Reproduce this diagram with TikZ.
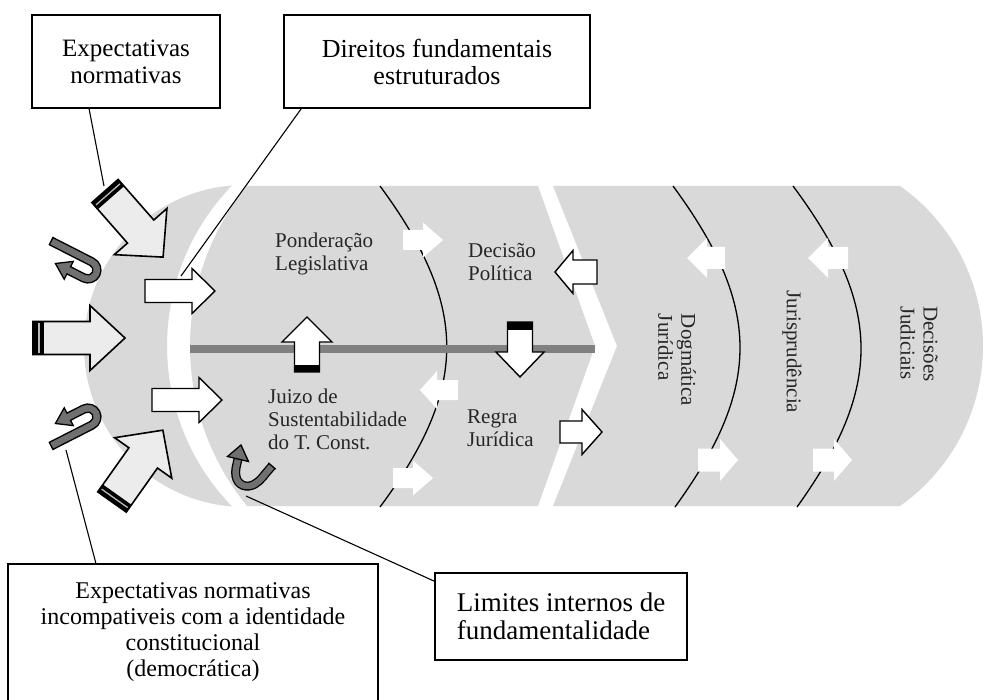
\documentclass[tikz,border=0pt]{standalone}
\usepackage{fontspec}
\setmainfont{Liberation Serif}
\definecolor{regiongray}{HTML}{D9D9D9}
\definecolor{arrowlight}{HTML}{ECECEC}
\definecolor{ugray}{HTML}{707070}
\definecolor{bargray}{HTML}{808080}
% block arrow: style, x, y, rotate, length, body half width, head half width, head length
\newcommand{\blockarrow}[8]{%
  \path[#1, shift={(#2,#3)}, rotate=#4] (0,-#6) -- ({#5-#8},-#6) -- ({#5-#8},-#7) -- (#5,0) -- ({#5-#8},#7) -- ({#5-#8},#6) -- (0,#6) -- cycle;}
% striped black tail: x, y, rotate, half width, thickness, stripe position
\newcommand{\tailband}[6]{%
  \fill[black, shift={(#1,#2)}, rotate=#3] (0,-#4) rectangle (#5,#4);
  \draw[gray!55, line width=1.3pt, shift={(#1,#2)}, rotate=#3] (#6,{-#4+1.5}) -- (#6,{#4-1.5});}
% plain black tail: x, y, rotate, half width, thickness
\newcommand{\tailblack}[5]{%
  \fill[black, shift={(#1,#2)}, rotate=#3] (0,-#4) rectangle (#5,#4);}
% U-turn arrow: x, y, rotate, yscale
\newcommand{\uarrow}[4]{%
  \filldraw[uarrowstyle, shift={(#1,#2)}, rotate=#3, yscale=#4] (-46,-13) -- (0,-13) .. controls (7.2,-13) and (13,-7.2) .. (13,0) .. controls (13,7.2) and (7.2,13) .. (0,13) -- (-17,13) -- (-17,19) -- (-32,9) -- (-17,-1) -- (-17,5) -- (0,5) .. controls (2.8,5) and (5,2.8) .. (5,0) .. controls (5,-2.8) and (2.8,-5) .. (0,-5) -- (-46,-5) -- cycle;}
\begin{document}
\begin{tikzpicture}[x=1pt,y=-1pt,
  region/.style={fill=regiongray},
  lightarrow/.style={fill=arrowlight, draw=black, line width=1.6pt},
  outarrow/.style={fill=white, draw=black, line width=1.4pt},
  plainarrow/.style={fill=white},
  uarrowstyle/.style={fill=ugray, draw=black, line width=1.3pt},
  curveline/.style={draw=black, line width=1.3pt},
  barline/.style={draw=bargray, line width=8pt},
  lbl/.style={font=\fontsize{21}{23}\selectfont, inner sep=0pt, align=left, text=black!85},
  box/.style={draw=black, line width=1.8pt, fill=white, align=center, inner sep=0pt},
  conn/.style={draw=black, line width=1.1pt}]
\useasboundingbox (0,0) rectangle (984,700);
\fill[white] (0,0) rectangle (984,700);

% regions
\fill[region] (232,185.5) .. controls (148.4,192.2) and (84,262.1) .. (84,346) .. controls (84,429.9) and (148.4,499.8) .. (232,506.5) .. controls (145.4,417.3) and (145.4,274.7) .. (232,185.5) -- cycle;
\fill[region] (247,186) -- (538,186) -- (595,346) -- (538,506) -- (247,506) .. controls (171,412.8) and (171,279.2) .. (247,186) -- cycle;
\fill[region] (553,186) -- (900,186) .. controls (952,222.6) and (983,282.4) .. (983,346) .. controls (983,409.6) and (952,469.4) .. (900,506) -- (553,506) -- (617,346) -- cycle;

% curves
\draw[curveline] (380,186) .. controls (469,307) and (469,387) .. (380,507);
\draw[curveline] (673,186) .. controls (762,307) and (762,387) .. (675,507);
\draw[curveline] (793,186) .. controls (883,307) and (883,387) .. (797,507);

% bar
\draw[barline] (190,349) -- (595,349);

% plain white arrows
\blockarrow{plainarrow}{403}{240}{0}{40}{10}{17.5}{20}
\blockarrow{plainarrow}{458}{390}{180}{38}{10}{19}{17}
\blockarrow{plainarrow}{393}{478}{0}{40}{10}{17.5}{20}
\blockarrow{plainarrow}{725}{258}{180}{38}{11}{20}{20}
\blockarrow{plainarrow}{848}{258}{180}{40}{11}{20}{20}
\blockarrow{plainarrow}{698}{460}{0}{40}{11.5}{21}{18}
\blockarrow{plainarrow}{813}{460}{0}{39}{11.5}{21}{18}

% outlined white arrows
\blockarrow{outarrow}{145}{291}{0}{70}{11.5}{22.5}{23}
\blockarrow{outarrow}{152}{400}{0}{70}{11.5}{22.5}{23}
\blockarrow{outarrow}{597}{272}{180}{42}{12}{21.5}{18}
\blockarrow{outarrow}{560}{432}{0}{42}{11}{22.5}{20}
\blockarrow{outarrow}{307}{372}{90}{55}{12.5}{25}{25}
\tailblack{307}{372}{90}{12.5}{7}
\blockarrow{outarrow}{520}{322}{-90}{55}{12.5}{24}{25}
\tailblack{520}{322}{-90}{12.5}{8}

% big light arrows on the left
\blockarrow{lightarrow}{105}{191}{-48.7}{88}{17.5}{35}{34}
\tailband{105}{191}{-48.7}{17.5}{9}{4.5}
\blockarrow{lightarrow}{33}{338}{0}{92}{16.5}{32.5}{35}
\tailband{33}{338}{0}{16.5}{11}{6}
\blockarrow{lightarrow}{112}{502}{54.7}{88}{17.5}{35}{34}
\tailband{112}{502}{54.7}{17.5}{9}{4.5}

% U-turn arrows
\uarrow{88}{270}{-27}{1}
\uarrow{88}{417}{27}{-1}
\draw[double=ugray, double distance=6.4pt, line width=1.3pt] (238,459) -- (236,468) .. controls (234,480) and (240,487) .. (249,486) .. controls (257,485) and (262,478) .. (266,473) -- (272,466);
\draw[line width=1.3pt] (268.3,462.8) -- (275.7,469.2);
\filldraw[uarrowstyle] (248.5,461.5) -- (241,445) -- (227.5,456.5) -- cycle;

% labels
\node[lbl, anchor=west] (pond) at (275,254) {Ponderação\\Legislativa};
\node[lbl, anchor=west] (dec) at (468,262) {Decisão\\Política};
\node[lbl, anchor=west] (juizo) at (268,419) {Juizo de\\Sustentabilidade\\do T. Const.};
\node[lbl, anchor=west] (regra) at (467,428) {Regra\\Jurídica};
\node[lbl, rotate=-90] (dog) at (677,360) {Dogmática\\Jurídica};
\node[lbl, rotate=-90] (jur) at (792,352) {Jurisprudência};
\node[lbl, rotate=-90] (dj) at (919,344) {Decisões\\Judiciais};

% boxes
\node[box, font=\fontsize{25}{27}\selectfont, minimum width=188pt, minimum height=93pt] (b1) at (126,61.5) {Expectativas\\normativas};
\node[box, font=\fontsize{26}{27}\selectfont, minimum width=306pt, minimum height=93pt] (b2) at (437,61.5) {Direitos fundamentais\\estruturados};
\node[box, draw=none, font=\fontsize{24}{26}\selectfont, minimum width=368pt, minimum height=135pt] (b3) at (193,632.5) {Expectativas normativas\\incompativeis com a identidade\\constitucional\\(democrática)};
\draw[line width=1.8pt] (b3.south west) -- (b3.north west) -- (b3.north east) -- (b3.south east);
\node[box, align=left, font=\fontsize{27}{28}\selectfont, minimum width=252pt, minimum height=87pt] (b4) at (561,616.5) {Limites internos de\\fundamentalidade};

% connectors
\coordinate (c1) at (104,186);
\coordinate (c2) at (181,276);
\coordinate (c3) at (66,450);
\coordinate (c4) at (246,496);
\draw[conn] ([xshift=58pt]b1.south west) -- (c1);
\draw[conn] ([xshift=18pt]b2.south west) -- (c2);
\draw[conn] ([xshift=88pt]b3.north west) -- (c3);
\draw[conn] ([yshift=-9pt]b4.north west) -- (c4);
\end{tikzpicture}
\end{document}
